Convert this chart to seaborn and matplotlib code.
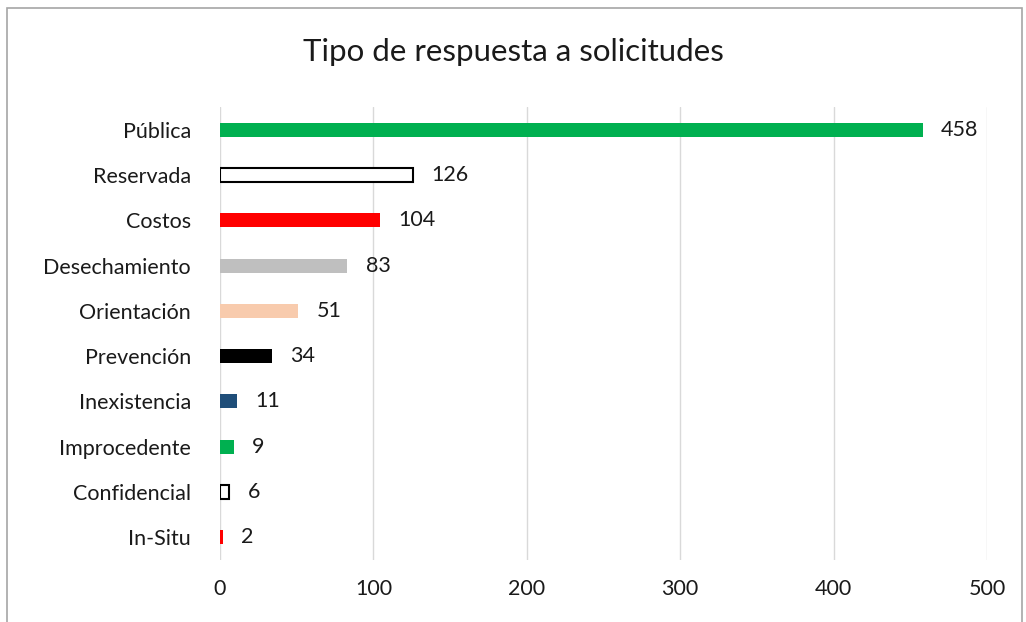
import matplotlib
matplotlib.use("Agg")
import pandas as pd
import seaborn as sns
import matplotlib.pyplot as plt
from matplotlib.patches import Rectangle

categorias = ['Pública', 'Reservada', 'Costos', 'Desechamiento', 'Orientación',
              'Prevención', 'Inexistencia', 'Improcedente', 'Confidencial', 'In-Situ']
valores = [458, 126, 104, 83, 51, 34, 11, 9, 6, 2]
colores = ['#00B050', '#FFFFFF', '#FF0000', '#BFBFBF', '#F8CBAD',
           '#000000', '#1F4E79', '#00B050', '#FFFFFF', '#FF0000']
bordes = ['none', '#000000', 'none', 'none', 'none',
          'none', 'none', 'none', '#000000', 'none']
ticks_x = [0, 100, 200, 300, 400, 500]

df = pd.DataFrame({'tipo': categorias, 'cantidad': valores})

sns.set_style('white')
plt.rcParams['font.family'] = ['Lato', 'DejaVu Sans']

fig = plt.figure(figsize=(10.26, 6.22), dpi=100)
ax = fig.add_axes([220 / 1026, 1 - 560 / 622, (987 - 220) / 1026, (560 - 107) / 622])

sns.barplot(data=df, y='tipo', x='cantidad', hue='tipo', palette=colores,
            saturation=1, legend=False, width=0.31, orient='h', ax=ax, zorder=3)

for barra, borde in zip(ax.patches, bordes):
    if borde != 'none':
        barra.set_edgecolor(borde)
        barra.set_linewidth(1.5)
    else:
        barra.set_linewidth(0)

for i, v in enumerate(valores):
    ax.text(v + 12, i, str(v), va='center', ha='left', fontsize=15.5, color='#1a1a1a')

ax.set_xlim(0, 500)
ax.set_xticks(ticks_x)
ax.set_ylim(9.5, -0.5)
ax.grid(axis='x', color='#D9D9D9', linewidth=1, zorder=0)
ax.set_xlabel('')
ax.set_ylabel('')
for s in ax.spines.values():
    s.set_visible(False)
ax.tick_params(axis='both', length=0, labelsize=15.5, colors='#1a1a1a')
ax.tick_params(axis='y', pad=21)
ax.tick_params(axis='x', pad=14)

fig.text(0.5, 1 - 52 / 622, 'Tipo de respuesta a solicitudes', ha='center', va='center',
         fontsize=22.5, color='#1a1a1a')

fig.patches.append(Rectangle((7 / 1026, -0.02), (1022 - 7) / 1026, 1.02 - 8 / 622,
                             transform=fig.transFigure, fill=False,
                             edgecolor='#A6A6A6', linewidth=1.2))

fig.savefig('out.png', dpi=100)
